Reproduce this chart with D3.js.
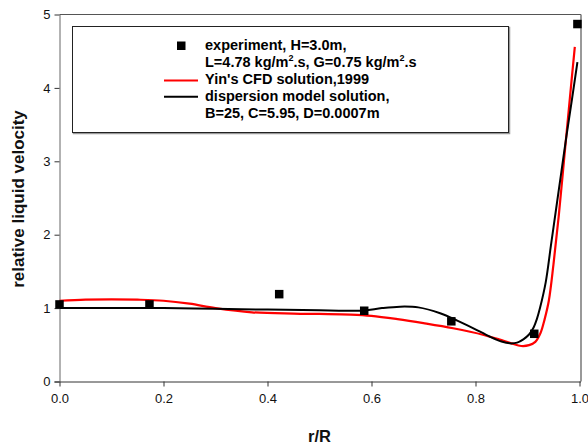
<!DOCTYPE html>
<html>
<head>
<meta charset="utf-8">
<script src="https://cdn.jsdelivr.net/npm/d3@7"></script>
<style>
  html, body { margin: 0; padding: 0; background: #fff; }
  svg { display: block; font-family: Arial, "Liberation Sans", sans-serif; }
</style>
</head>
<body>
<svg id="chart" width="588" height="446"></svg>
<script>
// Measured points (experiment, H=3.0m)
const expR = [0.0, 0.173, 0.4225, 0.586, 0.7535, 0.913, 0.996];
const expV = [1.05, 1.05, 1.19, 0.964, 0.82, 0.65, 4.87];

// Yin's CFD solution, 1999
const cfdR = [0, 0.05, 0.1, 0.15, 0.2, 0.25, 0.3, 0.37, 0.45, 0.5, 0.56, 0.6, 0.65, 0.7, 0.757, 0.816, 0.845, 0.869, 0.888, 0.903, 0.915, 0.925, 0.933, 0.941, 0.95, 0.96, 0.97, 0.98, 0.991];
const cfdV = [1.1, 1.115, 1.12, 1.115, 1.1, 1.06, 1.0, 0.943, 0.925, 0.92, 0.912, 0.895, 0.85, 0.795, 0.725, 0.634, 0.575, 0.52, 0.484, 0.495, 0.54, 0.66, 0.85, 1.1, 1.6, 2.25, 3.0, 3.75, 4.56];

// Dispersion model solution, B=25, C=5.95, D=0.0007m
const dispR = [0, 0.1, 0.2, 0.3, 0.4, 0.5, 0.55, 0.586, 0.62, 0.655, 0.69, 0.732, 0.765, 0.796, 0.828, 0.85, 0.866, 0.88, 0.892, 0.903, 0.912, 0.918, 0.924, 0.935, 0.945, 0.955, 0.965, 0.975, 0.985, 0.996];
const dispV = [1.0, 1.0, 1.0, 0.99, 0.98, 0.97, 0.965, 0.968, 1.0, 1.02, 1.01, 0.93, 0.83, 0.725, 0.61, 0.545, 0.52, 0.53, 0.575, 0.64, 0.74, 0.85, 1.0, 1.35, 1.85, 2.35, 2.85, 3.35, 3.82, 4.35];

const xTicks = [0.0, 0.2, 0.4, 0.6, 0.8, 1.0];
const yTicks = [0, 1, 2, 3, 4, 5];

const svg = d3.select("#chart");
const plotL = 59.5, plotR = 579.5, plotT = 14.5, plotB = 381.5;

const x = d3.scaleLinear().domain([0, 1]).range([plotL, plotR]);
const y = d3.scaleLinear().domain([0, 5]).range([plotB, plotT]);

// Plot frame (top and right)
svg.append("line").attr("x1", plotL).attr("x2", plotR + 1.5).attr("y1", plotT).attr("y2", plotT)
  .attr("stroke", "#555").attr("stroke-width", 1);
svg.append("line").attr("x1", plotR + 1.5).attr("x2", plotR + 1.5).attr("y1", plotT).attr("y2", plotB)
  .attr("stroke", "#777").attr("stroke-width", 1.5);

// Axes
const xAxis = d3.axisBottom(x).tickValues(xTicks).tickFormat(d3.format(".1f")).tickSize(5).tickSizeOuter(0);
const gx = svg.append("g").attr("transform", `translate(0,${plotB})`).call(xAxis);
gx.select(".domain").attr("d", `M${plotL - 5},0.5H${plotR + 1.5}`).attr("stroke", "#333");
gx.selectAll(".tick line").attr("stroke", "#333");
gx.selectAll(".tick text").attr("font-size", 13).attr("fill", "#111").attr("dy", "1.05em")
  .attr("font-family", "Arial, 'Liberation Sans', sans-serif");

const yAxis = d3.axisLeft(y).tickValues(yTicks).tickFormat(d3.format("d")).tickSize(5).tickSizeOuter(0);
const gy = svg.append("g").attr("transform", `translate(${plotL},0)`).call(yAxis);
gy.select(".domain").attr("stroke", "#666");
gy.selectAll(".tick line").attr("stroke", "#333");
gy.selectAll(".tick text").attr("font-size", 13).attr("fill", "#111").attr("x", -9)
  .attr("font-family", "Arial, 'Liberation Sans', sans-serif");

// Axis titles
svg.append("text").attr("x", (plotL + plotR) / 2).attr("y", 441.5).attr("text-anchor", "middle")
  .attr("font-size", 16.5).attr("font-weight", "bold").attr("fill", "#111").text("r/R");
svg.append("text").attr("transform", "translate(24,199) rotate(-90)").attr("text-anchor", "middle")
  .attr("font-size", 17).attr("font-weight", "bold").attr("fill", "#111").text("relative liquid velocity");

// Curves
const line = (rs, vs) => d3.line().x(i => x(rs[i])).y(i => y(vs[i]))
  .curve(d3.curveCatmullRom.alpha(0.5))(d3.range(rs.length));

svg.append("path").attr("d", line(cfdR, cfdV)).attr("fill", "none")
  .attr("stroke", "#ff0000").attr("stroke-width", 2.2);
svg.append("path").attr("d", line(dispR, dispV)).attr("fill", "none")
  .attr("stroke", "#000").attr("stroke-width", 2);

// Experimental points
const sq = 8.5;
svg.append("g").selectAll("rect").data(d3.range(expR.length)).join("rect")
  .attr("x", i => x(expR[i]) - sq / 2).attr("y", i => y(expV[i]) - sq / 2)
  .attr("width", sq).attr("height", sq).attr("fill", "#000");

// Legend
const lg = svg.append("g");
lg.append("rect").attr("x", 73.5).attr("y", 27.5).attr("width", 436).attr("height", 106)
  .attr("fill", "none").attr("stroke", "#999").attr("stroke-width", 1.5);
lg.append("rect").attr("x", 72.5).attr("y", 26.5).attr("width", 436).attr("height", 106)
  .attr("fill", "#fff").attr("stroke", "#222").attr("stroke-width", 1);

const tx = 205, fs = 14.5;
const base = [50, 66.9, 83.8, 100.6, 117.5];
lg.append("rect").attr("x", 177).attr("y", 41.5).attr("width", 8.5).attr("height", 8.5).attr("fill", "#000");
lg.append("line").attr("x1", 164).attr("x2", 198).attr("y1", 80.5).attr("y2", 80.5)
  .attr("stroke", "#ff0000").attr("stroke-width", 2);
lg.append("line").attr("x1", 164).attr("x2", 198).attr("y1", 96.8).attr("y2", 96.8)
  .attr("stroke", "#000").attr("stroke-width", 2);

const lt = (yy) => lg.append("text").attr("x", tx).attr("y", yy).attr("font-size", fs)
  .attr("font-weight", "bold").attr("fill", "#000");
lt(base[0]).text("experiment, H=3.0m,");
const t2 = lt(base[1]);
t2.append("tspan").text("L=4.78 kg/m");
t2.append("tspan").attr("font-size", 9).attr("dy", -6).text("2");
t2.append("tspan").attr("dy", 6).text(".s, G=0.75 kg/m");
t2.append("tspan").attr("font-size", 9).attr("dy", -6).text("2");
t2.append("tspan").attr("dy", 6).text(".s");
lt(base[2]).text("Yin's CFD solution,1999");
lt(base[3]).text("dispersion model solution,");
lt(base[4]).text("B=25, C=5.95, D=0.0007m");
</script>
</body>
</html>
